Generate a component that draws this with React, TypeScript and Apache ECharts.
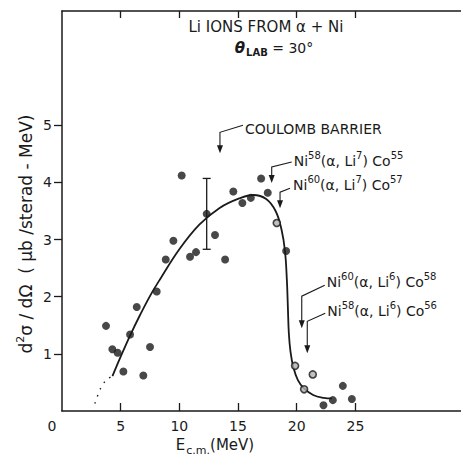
import React, { useEffect, useRef } from "react";
import * as echarts from "echarts";

// ---- axis ticks / labels ----
const xTickValues = [5, 10, 15, 20, 25];
const xLabelValues = [0, 5, 10, 15, 20, 25];
const yTickValues = [1, 2, 3, 4, 5];

// ---- measured cross sections (E c.m. MeV, d2sigma/dOmega) ----
const filledPoints: [number, number][] = [
  [3.75, 1.49], [4.29, 1.08], [4.74, 1.02], [5.23, 0.69], [5.8, 1.34],
  [6.37, 1.82], [6.93, 0.62], [7.5, 1.12], [8.07, 2.09], [8.84, 2.65],
  [9.49, 2.98], [10.2, 4.12], [10.91, 2.7], [11.42, 2.78], [12.33, 3.45],
  [13.04, 3.08], [13.9, 2.65], [14.6, 3.84], [15.37, 3.64], [16.09, 3.73],
  [16.97, 4.07], [17.53, 3.82], [19.1, 2.8], [22.28, 0.1], [23.08, 0.19],
  [23.93, 0.44], [24.7, 0.21],
];
const openPoints: [number, number][] = [
  [18.3, 3.29], [19.86, 0.79], [20.63, 0.38], [21.37, 0.64],
];
// hand-drawn fit curve
const fitCurve: [number, number][] = [
  [4.3, 0.61], [5.0, 0.95], [5.8, 1.32], [6.65, 1.68], [7.6, 2.05],
  [8.4, 2.32], [10.0, 2.83], [11.7, 3.26], [13.4, 3.55], [15.1, 3.72],
  [16.3, 3.78], [17.4, 3.71], [18.2, 3.5], [18.7, 3.18], [19.0, 2.8],
  [19.16, 2.3], [19.25, 1.8], [19.33, 1.36], [19.47, 1.04], [19.72, 0.76],
  [20.1, 0.54], [20.6, 0.4], [21.4, 0.28], [22.3, 0.23], [23.0, 0.22],
];
const fitExtension: [number, number][] = [
  [2.8, 0.13], [3.3, 0.4], [3.8, 0.55], [4.3, 0.61],
];
// [x, low, high]
const errorBars: [number, number, number][] = [[12.33, 2.83, 4.07]];

// ---- annotation arrows: tip position (data) and label ----
const arrowTips: [number, number][] = [
  [13.46, 4.51], [17.87, 3.99], [18.58, 3.55], [20.43, 1.45], [20.9, 1.01],
];
const arrowLabels = [
  "{m|COULOMB BARRIER}",
  "{m|Ni}{s|58}{m|(α, Li}{s|7}{m|) Co}{s|55}",
  "{m|Ni}{s|60}{m|(α, Li}{s|7}{m|) Co}{s|57}",
  "{m|Ni}{s|60}{m|(α, Li}{s|6}{m|) Co}{s|58}",
  "{m|Ni}{s|58}{m|(α, Li}{s|6}{m|) Co}{s|56}",
];
// pixel layout of leader lines relative to tip
const arrowLayout = [
  { elbow: -21, end: [23, -28], text: [25, -24] },
  { elbow: -16, end: [20, -21], text: [22, -22] },
  { elbow: -16, end: [10, -20], text: [13, -23] },
  { elbow: -32, end: [23, -43], text: [25, -46] },
  { elbow: -32, end: [18, -40], text: [20, -42] },
];

const INK = "#1a1a1a";
const FONT = "DejaVu Sans";

export default function App() {
  const ref = useRef<HTMLDivElement>(null);
  useEffect(() => {
    document.body.style.margin = "0";
    const chart = echarts.init(ref.current!, null, { renderer: "svg" });
    const axisLineStyle = { color: INK, width: 1.5 };
    const option: any = {
      animation: false,
      backgroundColor: "#ffffff",
      grid: { left: 62, top: 11, right: 0, bottom: 46, outerBoundsMode: "none" },
      xAxis: [
        {
          type: "value",
          position: "bottom",
          min: 0,
          max: 34,
          interval: 5,
          axisLine: { show: true, onZero: false, lineStyle: axisLineStyle },
          axisTick: { show: true, inside: true, length: 8, lineStyle: { color: INK, width: 1.3 }, customValues: xTickValues },
          axisLabel: {
            customValues: xLabelValues,
            margin: 8,
            color: INK,
            fontSize: 14,
            fontFamily: FONT,
            formatter: (v: number) => (v === 0 ? "{z|0}" : String(v)),
            rich: { z: { fontSize: 14, fontFamily: FONT, color: INK, padding: [0, 20, 0, 0] } },
          },
          splitLine: { show: false },
        },
        {
          type: "value",
          position: "top",
          min: 0,
          max: 34,
          interval: 5,
          axisLine: { show: true, onZero: false, lineStyle: axisLineStyle },
          axisTick: { show: true, inside: true, length: 7, lineStyle: { color: INK, width: 1.3 }, customValues: xTickValues },
          axisLabel: { show: false },
          splitLine: { show: false },
        },
      ],
      yAxis: {
        type: "value",
        min: 0,
        max: 7,
        interval: 1,
        axisLine: { show: true, onZero: false, lineStyle: axisLineStyle },
        axisTick: { show: true, inside: false, length: 8, lineStyle: { color: INK, width: 1.3 }, customValues: yTickValues },
        axisLabel: { customValues: yTickValues, margin: 10, color: INK, fontSize: 14, fontFamily: FONT },
        splitLine: { show: false },
      },
      graphic: [
        {
          type: "text",
          x: 266,
          y: 27,
          silent: true,
          style: { text: "Li IONS FROM α + Ni", fill: INK, fontSize: 15, fontFamily: FONT, align: "center", verticalAlign: "middle" },
        },
        {
          type: "text",
          x: 274,
          y: 48,
          silent: true,
          style: {
            text: "{t|θ}{s|LAB}{m| = 30°}",
            align: "center",
            verticalAlign: "middle",
            rich: {
              t: { fontSize: 15, fontFamily: FONT, fontStyle: "italic", fontWeight: "bold", fill: INK, color: INK },
              s: { fontSize: 10, fontFamily: FONT, fontWeight: "bold", fill: INK, color: INK, padding: [9, 0, 0, 1] },
              m: { fontSize: 14, fontFamily: FONT, fill: INK, color: INK },
            },
          },
        },
        {
          type: "text",
          x: 215,
          y: 445,
          silent: true,
          style: {
            text: "{m|E}{s|c.m.}{m|(MeV)}",
            align: "center",
            verticalAlign: "middle",
            rich: {
              m: { fontSize: 15, fontFamily: FONT, fill: INK, color: INK },
              s: { fontSize: 11, fontFamily: FONT, fill: INK, color: INK, padding: [11, 0, 0, 1] },
            },
          },
        },
        {
          type: "text",
          x: 26,
          y: 234,
          rotation: Math.PI / 2,
          silent: true,
          style: {
            text: "{m|d}{p|2}{m|σ / dΩ  ( μb /sterad - MeV)}",
            align: "center",
            verticalAlign: "middle",
            rich: {
              m: { fontSize: 17, fontFamily: FONT, fill: INK, color: INK },
              p: { fontSize: 11, fontFamily: FONT, fill: INK, color: INK, padding: [0, 0, 12, 0] },
            },
          },
        },
      ],
      series: [
        {
          type: "line",
          data: fitCurve,
          smooth: 0.4,
          symbol: "none",
          silent: true,
          lineStyle: { color: INK, width: 1.8 },
          z: 2,
        },
        {
          type: "line",
          data: fitExtension,
          smooth: 0.3,
          symbol: "none",
          silent: true,
          lineStyle: { color: INK, width: 1.4, type: [1.5, 6] },
          z: 2,
        },
        {
          type: "scatter",
          data: filledPoints,
          symbol: "circle",
          symbolSize: 8,
          silent: true,
          itemStyle: { color: INK },
          z: 3,
        },
        {
          type: "scatter",
          data: openPoints,
          symbol: "circle",
          symbolSize: 7,
          silent: true,
          itemStyle: { color: "#b0b0b0", borderColor: INK, borderWidth: 1.6 },
          z: 3,
        },
        {
          type: "custom",
          silent: true,
          data: errorBars,
          z: 3,
          renderItem: (params: any, api: any) => {
            const x = api.value(0);
            const lo = api.coord([x, api.value(1)]);
            const hi = api.coord([x, api.value(2)]);
            const w = 4;
            const st = { stroke: INK, lineWidth: 1.3 };
            return {
              type: "group",
              children: [
                { type: "line", shape: { x1: lo[0], y1: lo[1], x2: hi[0], y2: hi[1] }, style: st },
                { type: "line", shape: { x1: lo[0] - w, y1: lo[1], x2: lo[0] + w, y2: lo[1] }, style: st },
                { type: "line", shape: { x1: hi[0] - w, y1: hi[1], x2: hi[0] + w, y2: hi[1] }, style: st },
              ],
            };
          },
        },
        {
          type: "custom",
          silent: true,
          data: arrowTips.map((t, i) => [t[0], t[1], i]),
          z: 4,
          renderItem: (params: any, api: any) => {
            const i = params.dataIndex;
            const p = api.coord([api.value(0), api.value(1)]);
            const L = arrowLayout[i];
            return {
              type: "group",
              children: [
                {
                  type: "polyline",
                  shape: {
                    points: [
                      [p[0] + L.end[0], p[1] + L.end[1]],
                      [p[0], p[1] + L.elbow],
                      [p[0], p[1] - 6],
                    ],
                  },
                  style: { stroke: INK, lineWidth: 1.1, fill: "none" },
                },
                {
                  type: "polygon",
                  shape: { points: [[p[0], p[1]], [p[0] - 3, p[1] - 8], [p[0] + 3, p[1] - 8]] },
                  style: { fill: INK },
                },
                {
                  type: "text",
                  x: p[0] + L.text[0],
                  y: p[1] + L.text[1],
                  style: {
                    text: arrowLabels[i],
                    fill: INK,
                    fontSize: 14,
                    fontFamily: FONT,
                    align: "left",
                    verticalAlign: "middle",
                    rich: {
                      m: { fontSize: 14, fontFamily: FONT, fill: INK, color: INK },
                      s: { fontSize: 10, fontFamily: FONT, fill: INK, color: INK, padding: [0, 0, 11, 0] },
                    },
                  },
                },
              ],
            };
          },
        },
      ],
    };
    chart.setOption(option);
    return () => chart.dispose();
  }, []);
  return <div ref={ref} style={{ width: 461, height: 457 }} />;
}
